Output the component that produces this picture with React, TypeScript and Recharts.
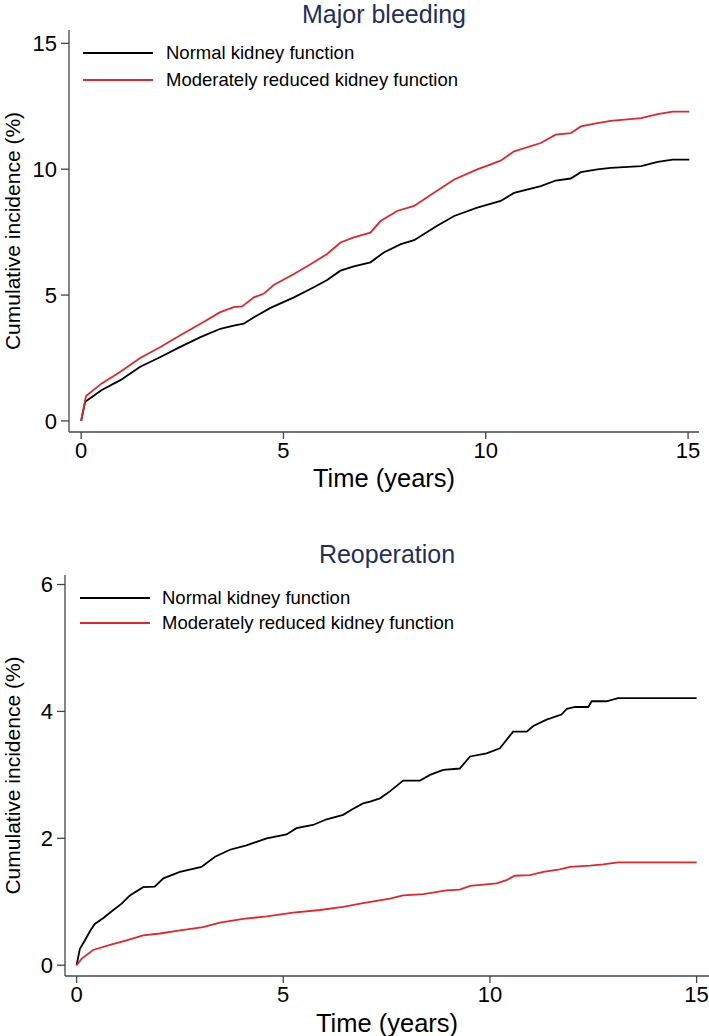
import React from 'react';
import { LineChart, Line, XAxis, YAxis, Legend } from 'recharts';

// ---- Data ----
const bleedNormalTime = [0, 0.1, 0.51, 0.97, 1.46, 1.96, 2.45, 2.95, 3.44, 3.77, 4.02, 4.27, 4.68, 5.26, 5.75, 6.08, 6.41, 6.74, 7.15, 7.48, 7.9, 8.23, 8.8, 9.22, 9.79, 10.37, 10.7, 11.36, 11.73, 12.1, 12.35, 12.76, 13.09, 13.84, 14.25, 14.62, 15.03];
const bleedNormalPct = [0, 0.76, 1.23, 1.62, 2.15, 2.54, 2.94, 3.33, 3.66, 3.79, 3.86, 4.12, 4.49, 4.91, 5.31, 5.6, 5.97, 6.14, 6.3, 6.69, 7.02, 7.18, 7.75, 8.14, 8.47, 8.74, 9.06, 9.33, 9.55, 9.63, 9.88, 9.99, 10.05, 10.12, 10.29, 10.38, 10.38];

const bleedModerateTime = [0, 0.12, 0.51, 0.97, 1.46, 1.96, 2.45, 2.95, 3.44, 3.77, 3.98, 4.27, 4.51, 4.76, 5.26, 5.75, 6.08, 6.41, 6.74, 7.15, 7.4, 7.81, 8.23, 8.72, 9.22, 9.79, 10.37, 10.7, 11.36, 11.73, 12.1, 12.35, 12.76, 13.09, 13.84, 14.25, 14.62, 15.03];
const bleedModeratePct = [0, 0.99, 1.49, 1.95, 2.5, 2.94, 3.4, 3.86, 4.32, 4.52, 4.55, 4.91, 5.05, 5.4, 5.84, 6.3, 6.63, 7.09, 7.29, 7.48, 7.94, 8.34, 8.54, 9.06, 9.59, 9.99, 10.34, 10.71, 11.04, 11.37, 11.43, 11.7, 11.83, 11.92, 12.03, 12.19, 12.29, 12.29];

const reopNormalTime = [0, 0.08, 0.2, 0.32, 0.44, 0.64, 0.89, 1.09, 1.29, 1.61, 1.89, 2.1, 2.5, 3.02, 3.35, 3.71, 4.11, 4.6, 5.08, 5.32, 5.72, 6.05, 6.45, 6.65, 6.93, 7.1, 7.34, 7.58, 7.9, 8.31, 8.55, 8.87, 9.27, 9.52, 9.92, 10.24, 10.4, 10.56, 10.89, 11.05, 11.37, 11.73, 11.86, 12.06, 12.38, 12.46, 12.82, 13.1, 15.0];
const reopNormalPct = [0, 0.26, 0.39, 0.53, 0.65, 0.74, 0.87, 0.97, 1.1, 1.23, 1.24, 1.37, 1.47, 1.55, 1.71, 1.82, 1.89, 2.0, 2.06, 2.16, 2.21, 2.3, 2.37, 2.45, 2.55, 2.58, 2.63, 2.74, 2.91, 2.91, 3.0, 3.08, 3.1, 3.29, 3.34, 3.42, 3.55, 3.68, 3.68, 3.77, 3.87, 3.95, 4.04, 4.07, 4.07, 4.16, 4.16, 4.21, 4.21];

const reopModerateTime = [0, 0.12, 0.4, 0.81, 1.21, 1.61, 2.02, 2.42, 3.06, 3.47, 4.03, 4.6, 5.24, 5.89, 6.45, 6.93, 7.58, 7.9, 8.39, 8.95, 9.27, 9.52, 10.16, 10.4, 10.6, 10.97, 11.29, 11.69, 11.94, 12.42, 12.74, 13.1, 15.0];
const reopModeratePct = [0, 0.1, 0.24, 0.32, 0.39, 0.47, 0.5, 0.54, 0.6, 0.67, 0.73, 0.77, 0.83, 0.87, 0.92, 0.98, 1.05, 1.1, 1.12, 1.18, 1.19, 1.25, 1.29, 1.34, 1.41, 1.42, 1.47, 1.51, 1.55, 1.57, 1.59, 1.62, 1.62];

const xTicks = [0, 5, 10, 15];
const bleedYTicks = [0, 5, 10, 15];
const reopYTicks = [0, 2, 4, 6];
const seriesNames = ['Normal kidney function', 'Moderately reduced kidney function'];
const seriesColors = ['#000000', '#e3262b'];
const titles = ['Major bleeding', 'Reoperation'];
const xTitle = 'Time (years)';
const yTitle = 'Cumulative incidence (%)';

const zip = (t: number[], v: number[]) => t.map((x, i) => ({ t: x, v: v[i] }));

const FONT = '"Liberation Sans", Arial, Helvetica, sans-serif';
const AXIS = '#444444';
const TITLE_COLOR = '#1f2f5c';

const makeLegend = (rowH: number, lineLen: number, gap: number) => () => (
  <div style={{ fontFamily: FONT, fontSize: 18.5, color: '#000' }}>
    {seriesNames.map((n, i) => (
      <div key={n} style={{ display: 'flex', alignItems: 'center', height: rowH, whiteSpace: 'nowrap' }}>
        <div style={{ width: lineLen, height: 0, borderTop: `2px solid ${seriesColors[i]}` }} />
        <span style={{ marginLeft: gap }}>{n}</span>
      </div>
    ))}
  </div>
);

const yLabel = (props: any) => {
  const vb = props.viewBox || {};
  const x = 12;
  const y = vb.y + vb.height / 2;
  return (
    <text x={x} y={y} transform={`rotate(-90, ${x}, ${y})`} textAnchor="middle" dominantBaseline="central" fontSize={21} fontFamily={FONT} fill="#000">
      {yTitle}
    </text>
  );
};

const xLabel = (dy: number) => (props: any) => {
  const vb = props.viewBox || {};
  const x = vb.x + vb.width / 2;
  const y = vb.y + dy;
  return (
    <text x={x} y={y} textAnchor="middle" dominantBaseline="central" fontSize={25.5} fontFamily={FONT} fill="#000">
      {xTitle}
    </text>
  );
};

interface PanelProps {
  top: number;
  height: number;
  margin: { top: number; right: number; left: number; bottom: number };
  xDomain: [number, number];
  yDomain: [number, number];
  yTicks: number[];
  normal: { t: number; v: number }[];
  moderate: { t: number; v: number }[];
  title: string;
  titleY: number;
  titleCx: number;
  legendTop: number;
  legendLeft: number;
  legendRow: number;
  legendLine: number;
  legendGap: number;
  xLabelDy: number;
}

const Panel = (p: PanelProps) => (
  <div style={{ position: 'absolute', left: 0, top: p.top, width: 709, height: p.height }}>
    <div
      style={{
        position: 'absolute',
        left: p.titleCx - 200,
        width: 400,
        top: p.titleY - 15,
        height: 30,
        lineHeight: '30px',
        textAlign: 'center',
        fontFamily: FONT,
        fontSize: 25,
        color: TITLE_COLOR,
      }}
    >
      {p.title}
    </div>
    <LineChart width={709} height={p.height} margin={p.margin}>
      <XAxis
        dataKey="t"
        type="number"
        domain={p.xDomain}
        ticks={xTicks}
        allowDataOverflow
        tickSize={7}
        tickMargin={3}
        height={30}
        axisLine={{ stroke: AXIS, strokeWidth: 1.3 }}
        tickLine={{ stroke: AXIS, strokeWidth: 1.3 }}
        tick={{ fill: '#000', fontSize: 22, fontFamily: FONT }}
        label={xLabel(p.xLabelDy)}
      />
      <YAxis
        type="number"
        domain={p.yDomain}
        ticks={p.yTicks}
        allowDataOverflow
        width={60}
        tickSize={8}
        tickMargin={4}
        axisLine={{ stroke: AXIS, strokeWidth: 1.3 }}
        tickLine={{ stroke: AXIS, strokeWidth: 1.3 }}
        tick={{ fill: '#000', fontSize: 22, fontFamily: FONT }}
        label={yLabel}
      />
      <Legend
        layout="vertical"
        align="center"
        verticalAlign="middle"
        content={makeLegend(p.legendRow, p.legendLine, p.legendGap)}
        wrapperStyle={{ top: p.legendTop, left: p.legendLeft, width: 420, height: 'auto' }}
      />
      <Line data={p.normal} dataKey="v" name={seriesNames[0]} type="linear" stroke={seriesColors[0]} strokeWidth={1.8} dot={false} activeDot={false} isAnimationActive={false} />
      <Line data={p.moderate} dataKey="v" name={seriesNames[1]} type="linear" stroke={seriesColors[1]} strokeWidth={1.8} dot={false} activeDot={false} isAnimationActive={false} />
    </LineChart>
  </div>
);

export default function App() {
  return (
    <div style={{ position: 'absolute', left: 0, top: 0, width: 709, height: 1036, background: '#fff', overflow: 'hidden' }}>
      <Panel
        top={0}
        height={510}
        margin={{ top: 30, right: 10, left: 9, bottom: 48 }}
        xDomain={[-0.3, 15.27]}
        yDomain={[-0.44, 15.53]}
        yTicks={bleedYTicks}
        normal={zip(bleedNormalTime, bleedNormalPct)}
        moderate={zip(bleedModerateTime, bleedModeratePct)}
        title={titles[0]}
        titleY={14}
        titleCx={384}
        legendTop={39}
        legendLeft={83}
        legendRow={27}
        legendLine={70}
        legendGap={13}
        xLabelDy={46}
      />
      <Panel
        top={520}
        height={516}
        margin={{ top: 55, right: 0, left: 5, bottom: 30 }}
        xDomain={[-0.28, 15.3]}
        yDomain={[-0.17, 6.15]}
        yTicks={reopYTicks}
        normal={zip(reopNormalTime, reopNormalPct)}
        moderate={zip(reopModerateTime, reopModeratePct)}
        title={titles[1]}
        titleY={34}
        titleCx={387}
        legendTop={65}
        legendLeft={80}
        legendRow={25}
        legendLine={70}
        legendGap={12}
        xLabelDy={47}
      />
    </div>
  );
}
